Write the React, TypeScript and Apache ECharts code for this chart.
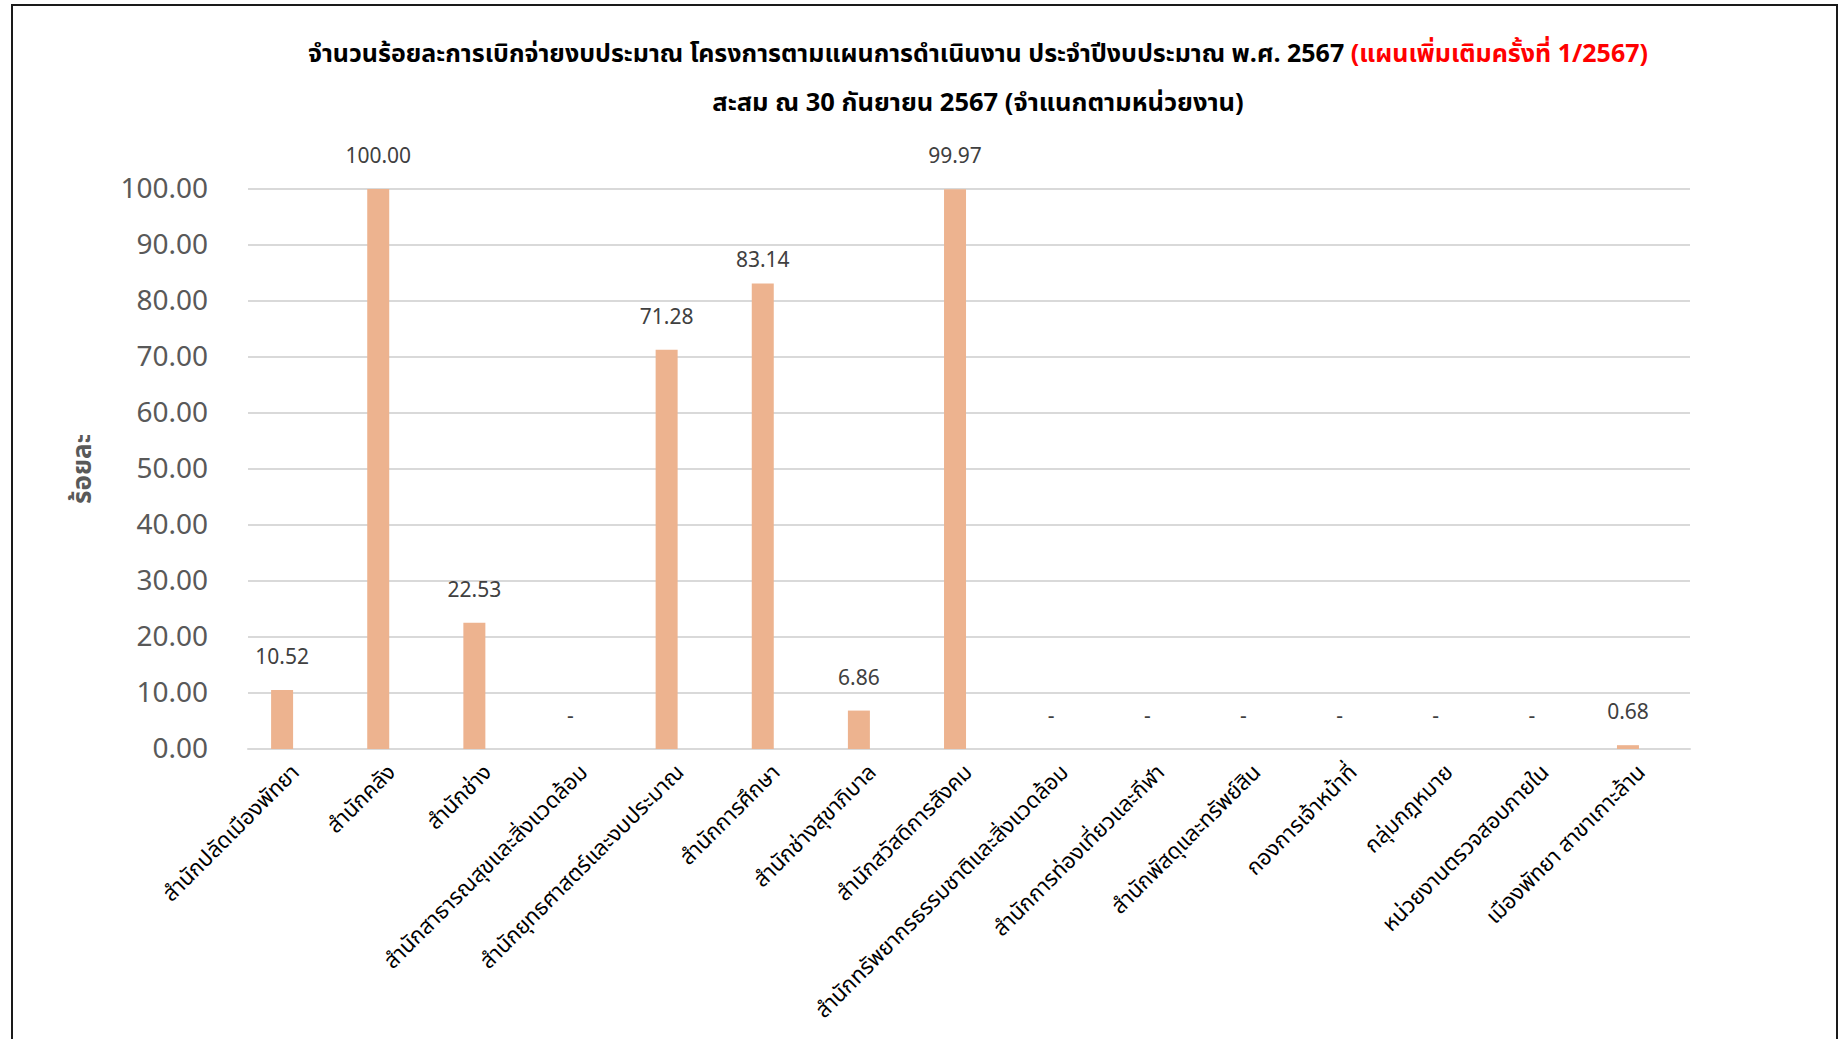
import React, { useEffect, useRef } from "react";
import * as echarts from "echarts";

const categories: string[] = [
  "สำนักปลัดเมืองพัทยา",
  "สำนักคลัง",
  "สำนักช่าง",
  "สำนักสาธารณสุขและสิ่งแวดล้อม",
  "สำนักยุทธศาสตร์และงบประมาณ",
  "สำนักการศึกษา",
  "สำนักช่างสุขาภิบาล",
  "สำนักสวัสดิการสังคม",
  "สำนักทรัพยากรธรรมชาติและสิ่งแวดล้อม",
  "สำนักการท่องเที่ยวและกีฬา",
  "สำนักพัสดุและทรัพย์สิน",
  "กองการเจ้าหน้าที่",
  "กลุ่มกฎหมาย",
  "หน่วยงานตรวจสอบภายใน",
  "เมืองพัทยา สาขาเกาะล้าน",
];

const percentValues: number[] = [10.52, 100.0, 22.53, 0, 71.28, 83.14, 6.86, 99.97, 0, 0, 0, 0, 0, 0, 0.68];

// empty second series of the original clustered chart (no visible bars)
const emptySeriesValues: (number | null)[] = [null, null, null, null, null, null, null, null, null, null, null, null, null, null, null];

const yTicks = { min: 0, max: 100, interval: 10 };

const titleMain = "จำนวนร้อยละการเบิกจ่ายงบประมาณ โครงการตามแผนการดำเนินงาน ประจำปีงบประมาณ พ.ศ. 2567 ";
const titleRed = "(แผนเพิ่มเติมครั้งที่ 1/2567)";
const subtitle = "สะสม ณ 30 กันยายน 2567 (จำแนกตามหน่วยงาน)";
const yName = "ร้อยละ";

const FONT = "Tahoma, 'Noto Sans Thai', 'Noto Sans', 'DejaVu Sans', sans-serif";

export default function App() {
  const ref = useRef<HTMLDivElement>(null);
  useEffect(() => {
    if (!ref.current) return;
    const chart = echarts.init(ref.current, undefined, { renderer: "svg" });
    const barData = percentValues.map((v, i) =>
      i === 5 ? { value: v, label: { distance: 12 } } : v
    );
    chart.setOption({
      animation: false,
      backgroundColor: "#ffffff",
      textStyle: { fontFamily: FONT },
      grid: { left: 248, right: 153, top: 189, bottom: 290, containLabel: false },
      graphic: [
        {
          type: "rect",
          shape: { x: 12, y: 5, width: 1825, height: 1100 },
          style: { fill: "none", stroke: "#1a1a1a", lineWidth: 2 },
          silent: true,
        },
        {
          type: "text",
          x: 978,
          y: 54,
          style: {
            text: "{a|" + titleMain + "}{b|" + titleRed + "}",
            align: "center",
            verticalAlign: "middle",
            rich: {
              a: { fontSize: 25, fontWeight: "bold", fill: "#000000", fontFamily: FONT },
              b: { fontSize: 25, fontWeight: "bold", fill: "#ff0000", fontFamily: FONT },
            },
          },
        },
        {
          type: "text",
          x: 978,
          y: 103,
          style: {
            text: subtitle,
            align: "center",
            verticalAlign: "middle",
            fontSize: 25.5,
            fontWeight: "bold",
            fill: "#000000",
            fontFamily: FONT,
          },
        },
      ],
      xAxis: {
        type: "category",
        data: categories,
        axisLine: { show: true, lineStyle: { color: "#d9d9d9", width: 2 } },
        axisTick: { show: false },
        axisLabel: {
          interval: 0,
          rotate: 45,
          fontSize: 22,
          color: "#000000",
          margin: 20,
          fontFamily: FONT,
        },
      },
      yAxis: {
        type: "value",
        min: yTicks.min,
        max: yTicks.max,
        interval: yTicks.interval,
        name: yName,
        nameLocation: "middle",
        nameGap: 152,
        nameTextStyle: { fontSize: 26, fontWeight: "bold", color: "#595959", fontFamily: FONT },
        axisLine: { show: false },
        axisTick: { show: false },
        axisLabel: {
          fontSize: 28,
          color: "#595959",
          margin: 40,
          formatter: (v: number) => v.toFixed(2),
          fontFamily: FONT,
        },
        splitLine: { lineStyle: { color: "#d9d9d9", width: 2 } },
      },
      series: [
        {
          type: "bar",
          data: barData,
          barWidth: 22,
          barGap: "27%",
          itemStyle: { color: "#edb38f" },
          label: {
            show: true,
            position: "top",
            distance: 22,
            fontSize: 21,
            color: "#404040",
            fontFamily: FONT,
            formatter: (p: any) => (p.value === 0 ? "-" : Number(p.value).toFixed(2)),
          },
        },
        {
          type: "bar",
          data: emptySeriesValues,
          barWidth: 22,
          itemStyle: { color: "#a5a5a5" },
          label: { show: false },
        },
      ],
    });
    return () => chart.dispose();
  }, []);
  return (
    <div
      ref={ref}
      style={{ position: "fixed", left: 0, top: 0, width: 1843, height: 1039 }}
    />
  );
}
